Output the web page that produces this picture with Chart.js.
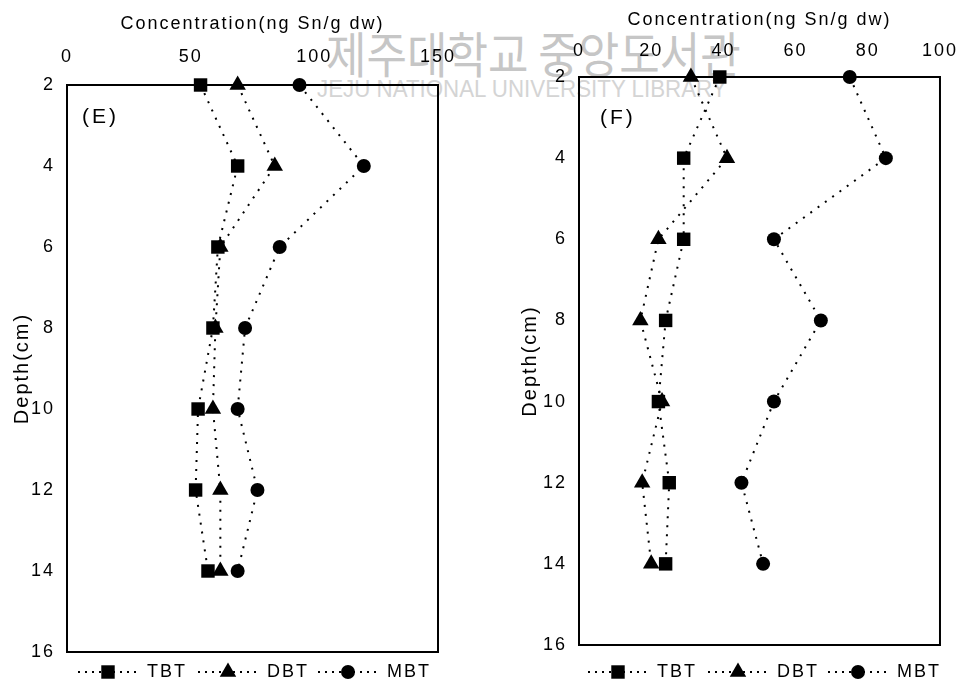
<!DOCTYPE html>
<html>
<head>
<meta charset="utf-8">
<script src="https://cdn.jsdelivr.net/npm/chart.js@4/dist/chart.umd.min.js"></script>
<style>
  html, body { margin: 0; padding: 0; background: #fff; }
  #page { position: relative; width: 970px; height: 683px; overflow: hidden; }
  .panel { position: absolute; top: 0; width: 485px; height: 683px; z-index: 1; }
  .wm { position: absolute; white-space: nowrap; line-height: 1; transform-origin: left top; z-index: 0; }
  #wmKo { left: 326px; top: 16px; font: 44px "Noto Sans CJK KR", sans-serif; color: #c6c6c6; transform: scale(1, 1.12); }
  #wmEn { left: 317px; top: 75px; font: 24px "Liberation Sans", Arial, sans-serif; color: #d4d4d4; transform: scaleX(0.93); }
</style>
</head>
<body>
<div id="page">
  <div class="wm" id="wmKo">제주대학교 중앙도서관</div>
  <div class="wm" id="wmEn">JEJU NATIONAL UNIVERSITY LIBRARY</div>
  <div class="panel" style="left:0"><canvas id="chartE" width="485" height="683"></canvas></div>
  <div class="panel" style="left:485px"><canvas id="chartF" width="485" height="683"></canvas></div>
</div>
<script>
// ── Data ─────────────────────────────────────────────
const DEPTHS = [2, 4, 6, 8, 10, 12, 14];
const DEPTH_TICKS = [2, 4, 6, 8, 10, 12, 14, 16];

const SERIES = ['TBT', 'DBT', 'MBT'];

// (E)
const E_TBT = [54, 69, 61, 59, 53, 52, 57];
const E_DBT = [69, 84, 62, 60, 59, 62, 62];
const E_MBT = [94, 120, 86, 72, 69, 77, 69];
const E_TICKS = [0, 50, 100, 150];

// (F)
const F_TBT = [39, 29, 29, 24, 22, 25, 24];
const F_DBT = [31, 41, 22, 17, 23, 17.5, 20];
const F_MBT = [75, 85, 54, 67, 54, 45, 51];
const F_TICKS = [0, 20, 40, 60, 80, 100];

// ── Styles ───────────────────────────────────────────
const FONT_FAMILY = '"Liberation Sans", Arial, sans-serif';
const POINT_STYLES = { TBT: 'rect', DBT: 'triangle', MBT: 'circle' };
const POINT_RADII = { TBT: 9.5, DBT: 9.5, MBT: 7 };

const makeSet = (label, xs) => ({
  label,
  data: xs.map((x, i) => ({ x, y: DEPTHS[i] })),
  showLine: true,
  borderColor: '#000',
  borderWidth: 2,
  borderDash: [2, 7],
  pointStyle: POINT_STYLES[label],
  pointRadius: POINT_RADII[label],
  pointHoverRadius: POINT_RADII[label],
  pointBackgroundColor: '#000',
  pointBorderColor: '#000',
  pointBorderWidth: 0,
  clip: false,
  tension: 0,
});

const fixTicks = (arr) => (scale) => { scale.ticks = arr.map(v => ({ value: v })); };

// ── Plugins ──────────────────────────────────────────
const spacing = {
  id: 'spacing',
  beforeDraw(chart) { chart.ctx.letterSpacing = '2px'; },
};

const plotBox = {
  id: 'plotBox',
  beforeDatasetsDraw(chart) {
    const { ctx, chartArea: a } = chart;
    ctx.save();
    ctx.strokeStyle = '#000';
    ctx.lineWidth = 2;
    ctx.strokeRect(a.left, a.top, a.right - a.left, a.bottom - a.top);
    ctx.restore();
  },
};

const panelTag = {
  id: 'panelTag',
  afterDraw(chart, args, opts) {
    const { ctx, chartArea: a } = chart;
    ctx.save();
    ctx.font = `21px ${FONT_FAMILY}`;
    ctx.letterSpacing = '3px';
    ctx.fillStyle = '#000';
    ctx.textBaseline = 'middle';
    ctx.textAlign = 'left';
    ctx.fillText(opts.text, a.left + opts.dx, a.top + opts.dy);
    ctx.restore();
  },
};

const dottedLegend = {
  id: 'dottedLegend',
  afterDraw(chart, args, opts) {
    const { ctx, chartArea: a } = chart;
    let x = a.left + opts.dx;
    const y = opts.y;
    ctx.save();
    ctx.font = `18px ${FONT_FAMILY}`;
    ctx.letterSpacing = '2px';
    ctx.fillStyle = '#000';
    ctx.textBaseline = 'middle';
    ctx.textAlign = 'left';
    chart.data.datasets.forEach(ds => {
      ctx.save();
      ctx.strokeStyle = '#000';
      ctx.lineWidth = 2;
      ctx.setLineDash([2, 5]);
      ctx.beginPath();
      ctx.moveTo(x, y);
      ctx.lineTo(x + 60, y);
      ctx.stroke();
      ctx.restore();
      Chart.helpers.drawPoint(ctx, {
        pointStyle: ds.pointStyle, radius: ds.pointRadius, borderWidth: 0, rotation: 0,
      }, x + 30, y);
      ctx.fillText(ds.label, x + 69, y);
      x += 120;
    });
    ctx.restore();
  },
};

// ── Chart builder ────────────────────────────────────
const buildPanel = (id, cfg) => {
  const tickFont = { family: FONT_FAMILY, size: 18 };
  return new Chart(document.getElementById(id), {
    type: 'scatter',
    data: {
      datasets: SERIES.map((s, i) => makeSet(s, cfg.values[i])),
    },
    options: {
      responsive: false,
      animation: false,
      events: [],
      layout: { padding: cfg.padding },
      scales: {
        x: {
          type: 'linear',
          position: 'top',
          min: cfg.xMin, max: cfg.xMax,
          afterBuildTicks: fixTicks(cfg.xTicks),
          grid: { display: false, drawTicks: false },
          border: { display: false },
          ticks: { color: '#000', font: tickFont, padding: cfg.xTickPad },
          title: {
            display: true, text: 'Concentration(ng Sn/g dw)', color: '#000',
            font: { family: FONT_FAMILY, size: 18 },
            padding: { top: cfg.xTitlePad, bottom: 0 },
          },
          afterFit: (s) => { s.height = cfg.xHeight; },
        },
        y: {
          type: 'linear',
          position: 'left',
          reverse: true,
          min: 2, max: 16,
          afterBuildTicks: fixTicks(DEPTH_TICKS),
          grid: { display: false, drawTicks: false },
          border: { display: false },
          ticks: { color: '#000', font: tickFont, padding: 12 },
          title: {
            display: true, text: 'Depth(cm)', color: '#000',
            font: { family: FONT_FAMILY, size: 20 },
            padding: { top: cfg.yTitlePad, bottom: 0 },
          },
          afterFit: (s) => { s.width = cfg.yWidth; },
        },
      },
      plugins: {
        legend: { display: false },
        tooltip: { enabled: false },
        panelTag: cfg.tag,
        dottedLegend: cfg.legend,
      },
    },
    plugins: [spacing, plotBox, panelTag, dottedLegend],
  });
};

buildPanel('chartE', {
  values: [E_TBT, E_DBT, E_MBT],
  xMin: 0, xMax: 150, xTicks: E_TICKS,
  padding: { left: 0, top: 0, right: 47, bottom: 31 },
  xHeight: 85, yWidth: 67,
  xTickPad: 17, xTitlePad: 13, yTitlePad: 10,
  tag: { text: '(E)', dx: 15, dy: 32 },
  legend: { dx: 11, y: 672 },
});

buildPanel('chartF', {
  values: [F_TBT, F_DBT, F_MBT],
  xMin: 0, xMax: 100, xTicks: F_TICKS,
  padding: { left: 0, top: 0, right: 21, bottom: 38 },
  xHeight: 77, yWidth: 94,
  xTickPad: 15, xTitlePad: 9, yTitlePad: 33,
  tag: { text: '(F)', dx: 21, dy: 41 },
  legend: { dx: 9, y: 672 },
});
</script>
</body>
</html>
